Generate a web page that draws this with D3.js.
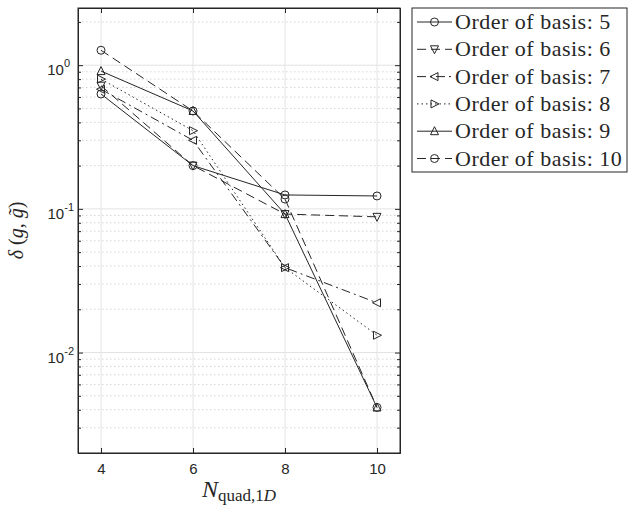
<!DOCTYPE html>
<html>
<head>
<meta charset="utf-8">
<script src="https://cdn.jsdelivr.net/npm/d3@7"></script>
<style>
  body { margin: 0; background: #fff; }
  svg { display: block; }
</style>
</head>
<body>
<script>
// quadrature points per dimension (x values)
const nQuad = [4, 6, 8, 10];
// delta(g, g~) per basis order
const order5 = [0.63, 0.20, 0.125, 0.123];
const order6 = [0.72, 0.20, 0.092, 0.088];
const order7 = [0.68, 0.30, 0.039, 0.0222];
const order8 = [0.80, 0.35, 0.039, 0.0132];
const order9 = [0.91, 0.48, 0.092, 0.00415];
const order10 = [1.27, 0.48, 0.117, 0.00415];
const seriesNames = ["Order of basis: 5", "Order of basis: 6", "Order of basis: 7",
  "Order of basis: 8", "Order of basis: 9", "Order of basis: 10"];
const xTicks = [4, 6, 8, 10];
const yDecades = [0, -1, -2];

var width = 628, height = 508;
var plot = { left: 78, right: 400, top: 8, bottom: 453 };
var serif = "'Liberation Serif', 'Times New Roman', serif";
var sans = "'Liberation Sans', Arial, sans-serif";

var svg = d3.select("body").append("svg")
  .attr("width", width)
  .attr("height", height);

var x = d3.scaleLinear().domain([3.5, 10.5]).range([plot.left, plot.right]);
var y = d3.scaleLog().domain([0.002, 2.5]).range([plot.bottom, plot.top]);

var ink = "#262626";
var styles = [
  { dash: null, marker: "circle" },
  { dash: "9,5", marker: "down" },
  { dash: "9,4,2,4", marker: "left" },
  { dash: "1.5,3", marker: "right" },
  { dash: null, marker: "up" },
  { dash: "9,5", marker: "circle" }
];
var series = [order5, order6, order7, order8, order9, order10];

// minor grid values (2..9 for each decade inside the domain)
var minor = [];
[-3, -2, -1, 0].forEach(function (e) {
  for (var k = 2; k <= 9; k++) {
    var v = k * Math.pow(10, e);
    if (v >= y.domain()[0] && v <= y.domain()[1]) minor.push(v);
  }
});
var major = yDecades.map(function (e) { return Math.pow(10, e); });

var grid = svg.append("g").attr("class", "grid");
grid.selectAll("line.minor").data(minor).enter().append("line")
  .attr("x1", plot.left).attr("x2", plot.right)
  .attr("y1", d => y(d)).attr("y2", d => y(d))
  .attr("stroke", "#d4d4d4").attr("stroke-dasharray", "1.5,2.5").attr("stroke-width", 1);
grid.selectAll("line.major").data(major).enter().append("line")
  .attr("x1", plot.left).attr("x2", plot.right)
  .attr("y1", d => y(d)).attr("y2", d => y(d))
  .attr("stroke", "#e3e3e3").attr("stroke-width", 1);
grid.selectAll("line.xg").data(xTicks).enter().append("line")
  .attr("x1", d => x(d)).attr("x2", d => x(d))
  .attr("y1", plot.top).attr("y2", plot.bottom)
  .attr("stroke", "#e3e3e3").attr("stroke-width", 1);

// axes (MATLAB style: ticks inside, box on)
var tickLen = 5;
var xAxis = d3.axisBottom(x).tickValues(xTicks).tickFormat(d3.format("d"))
  .tickSizeInner(-tickLen).tickSizeOuter(0).tickPadding(10);
var gx = svg.append("g").attr("transform", "translate(0," + plot.bottom + ")").call(xAxis);
gx.selectAll("text").attr("font-family", sans)
  .attr("font-size", 15).attr("fill", ink);
var xTop = d3.axisTop(x).tickValues(xTicks).tickSizeInner(-tickLen).tickSizeOuter(0).tickFormat("");
svg.append("g").attr("transform", "translate(0," + plot.top + ")").call(xTop);

var yAxis = d3.axisLeft(y).tickValues(major).tickSizeInner(-tickLen).tickSizeOuter(0).tickFormat("");
svg.append("g").attr("transform", "translate(" + plot.left + ",0)").call(yAxis);
var yRight = d3.axisRight(y).tickValues(major).tickSizeInner(-tickLen).tickSizeOuter(0).tickFormat("");
svg.append("g").attr("transform", "translate(" + plot.right + ",0)").call(yRight);
var yMinorL = d3.axisLeft(y).tickValues(minor).tickSizeInner(-3).tickSizeOuter(0).tickFormat("");
svg.append("g").attr("transform", "translate(" + plot.left + ",0)").call(yMinorL);
var yMinorR = d3.axisRight(y).tickValues(minor).tickSizeInner(-3).tickSizeOuter(0).tickFormat("");
svg.append("g").attr("transform", "translate(" + plot.right + ",0)").call(yMinorR);

svg.selectAll(".domain").attr("stroke", ink);
svg.selectAll(".tick line").attr("stroke", ink);

// y tick labels 10^e
var ylab = svg.append("g").attr("font-family", sans).attr("fill", ink);
yDecades.forEach(function (e) {
  var t = ylab.append("text")
    .attr("x", e === 0 ? plot.left - 8 : plot.left - 4)
    .attr("y", y(Math.pow(10, e)) + 10)
    .attr("text-anchor", "end")
    .attr("font-size", 15);
  t.append("tspan").text("10");
  t.append("tspan").attr("font-size", 11).attr("dy", -8).text(e === 0 ? "0" : "-" + Math.abs(e));
});

svg.append("rect")
  .attr("x", plot.left).attr("y", plot.top)
  .attr("width", plot.right - plot.left).attr("height", plot.bottom - plot.top)
  .attr("fill", "none").attr("stroke", ink).attr("stroke-width", 1);

// markers
function drawMarker(g, type, cx, cy) {
  var s = 4;
  if (type === "circle") {
    g.append("circle").attr("cx", cx).attr("cy", cy).attr("r", s)
      .attr("fill", "none").attr("stroke", ink).attr("stroke-width", 1);
    return;
  }
  var pts;
  if (type === "up") pts = [[0, -s - 0.5], [s, s - 0.5], [-s, s - 0.5]];
  if (type === "down") pts = [[0, s + 0.5], [s, -s + 0.5], [-s, -s + 0.5]];
  if (type === "left") pts = [[-s - 0.5, 0], [s - 0.5, -s], [s - 0.5, s]];
  if (type === "right") pts = [[s + 0.5, 0], [-s + 0.5, -s], [-s + 0.5, s]];
  g.append("polygon")
    .attr("points", pts.map(p => (cx + p[0]) + "," + (cy + p[1])).join(" "))
    .attr("fill", "none").attr("stroke", ink).attr("stroke-width", 1);
}

var line = d3.line().x((d, i) => x(nQuad[i])).y(d => y(d));
var marks = svg.append("g");
series.forEach(function (vals, i) {
  marks.append("path").datum(vals)
    .attr("d", line)
    .attr("fill", "none")
    .attr("stroke", ink)
    .attr("stroke-width", 1)
    .attr("stroke-dasharray", styles[i].dash);
  vals.forEach(function (v, j) {
    drawMarker(marks, styles[i].marker, x(nQuad[j]), y(v));
  });
});

// axis labels
svg.append("text")
  .attr("transform", "translate(23," + ((plot.top + plot.bottom) / 2) + ") rotate(-90)")
  .attr("text-anchor", "middle")
  .attr("font-family", serif)
  .attr("font-size", 20)
  .attr("fill", ink)
  .html("<tspan font-style='italic'>δ</tspan> (<tspan font-style='italic'>g</tspan>, <tspan font-style='italic'>g\u0303</tspan>)");

var xl = svg.append("text")
  .attr("x", (plot.left + plot.right) / 2)
  .attr("y", 497)
  .attr("text-anchor", "middle")
  .attr("font-family", serif)
  .attr("fill", ink);
xl.append("tspan").attr("font-style", "italic").attr("font-size", 24).text("N");
xl.append("tspan").attr("font-size", 17).attr("dy", 4).text("quad,1");
xl.append("tspan").attr("font-size", 17).attr("font-style", "italic").text("D");

// legend
var legend = svg.append("g");
legend.append("rect")
  .attr("x", 412).attr("y", 8).attr("width", 215).attr("height", 164)
  .attr("fill", "#fff").attr("stroke", ink).attr("stroke-width", 1);
seriesNames.forEach(function (name, i) {
  var cy = 22 + i * 27.3;
  legend.append("line")
    .attr("x1", 417).attr("x2", 452).attr("y1", cy).attr("y2", cy)
    .attr("stroke", ink).attr("stroke-width", 1)
    .attr("stroke-dasharray", styles[i].dash);
  drawMarker(legend, styles[i].marker, 434.5, cy);
  legend.append("text")
    .attr("x", 455).attr("y", cy + 7)
    .attr("font-family", serif)
    .attr("font-size", 22)
    .attr("letter-spacing", 0.5)
    .attr("fill", ink)
    .text(name);
});
</script>
</body>
</html>
